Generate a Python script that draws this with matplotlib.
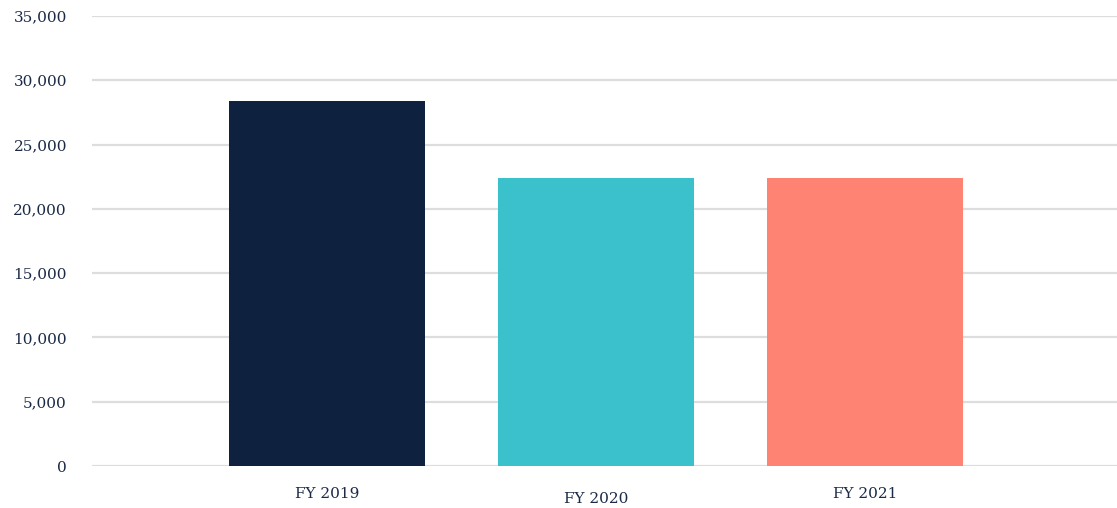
import numpy as np
import matplotlib.pyplot as plt

categories = ["FY 2019", "FY 2020", "FY 2021"]
values = [28400, 22400, 22400]
bar_colors = ["#0E2240", "#3BC1CB", "#FF8373"]
yticks = [0, 5000, 10000, 15000, 20000, 25000, 30000, 35000]

text_color = "#1B2A47"
plt.rcParams["font.family"] = ["DejaVu Serif"]

fig = plt.figure(figsize=(11.17, 5.08), dpi=100)
ax = fig.add_axes([92 / 1117, 42 / 508, 1025 / 1117, 450 / 508])

x = np.arange(len(categories))
ax.bar(x, values, width=0.73, color=bar_colors, zorder=3)

ax.set_ylim(0, 35000)
ax.set_xlim(-0.874, 2.937)
ax.set_yticks(yticks)
ax.set_yticklabels([f"{v:,}" for v in yticks], color=text_color, fontsize=11)
ax.yaxis.grid(True, color="#dddddd", linewidth=1.6, zorder=0)
ax.set_axisbelow(True)

ax.set_xticks(x)
ax.set_xticklabels(categories, color=text_color, fontsize=11)
# the middle label sits a little lower in the original
for i, lab in enumerate(ax.get_xticklabels()):
    lab.set_y(-0.011 if i == 1 else 0)

ax.tick_params(axis="both", length=0)
ax.tick_params(axis="y", pad=18)
ax.tick_params(axis="x", pad=15)
for s in ax.spines.values():
    s.set_visible(False)

fig.savefig("out.png", dpi=100)
